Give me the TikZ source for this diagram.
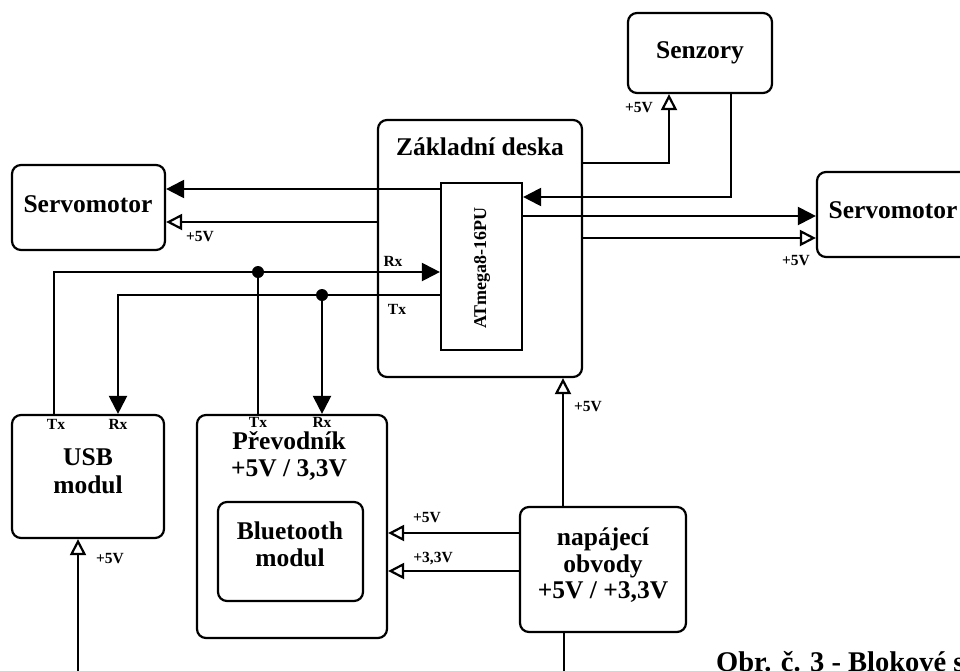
\documentclass[tikz,border=0pt]{standalone}
\usepackage{fontspec}
\setmainfont{Liberation Serif}
\usetikzlibrary{arrows.meta,calc}
\tikzset{
  blk/.style={draw,line width=2.2pt,rounded corners=9pt,inner sep=0pt,minimum width=#1},
  big/.style={font=\fontsize{25.5}{30}\selectfont\bfseries,inner sep=0pt,text height=0.7em,text depth=0.05em},
  sml/.style={font=\fontsize{15.5}{18}\selectfont\bfseries,inner sep=0pt,text height=0.7em,text depth=0.05em},
  wire/.style={line width=2.2pt},
  fa/.style={wire,-{Triangle[length=18pt,width=18pt]}},
  oa/.style={wire,-{Triangle[open,length=16pt,width=16pt,fill=white]}},
}
\begin{document}
\begin{tikzpicture}[x=1pt,y=-1pt]
\useasboundingbox (0,0) rectangle (960,670);
\begin{scope}
\clip (0,0) rectangle (960,670);
% boxes
\node[blk=144pt,minimum height=80pt] (senz) at (700,53) {};
\node[blk=204pt,minimum height=257pt] (zd) at (480,248.5) {};
\node[draw,line width=2.2pt,inner sep=0pt,minimum width=81pt,minimum height=167pt] (atm) at (481.5,266.5) {};
\node[blk=153pt,minimum height=85pt] (servoL) at (88.5,207.5) {};
\node[blk=152pt,minimum height=85pt] (servoR) at (893,214.5) {};
\node[blk=152pt,minimum height=123pt] (usb) at (88,476.5) {};
\node[blk=190pt,minimum height=223pt] (prev) at (292,526.5) {};
\node[blk=145pt,minimum height=99pt] (bt) at (290.5,551.5) {};
\node[blk=166pt,minimum height=125pt] (nap) at (603,569.5) {};
% texts
\node[big] (tsenz) at (700,55) {Senzory};
\node[big] (tzd) at (480,152) {Základní deska};
\node[font=\fontsize{18}{21}\selectfont\bfseries,inner sep=0pt,rotate=90] (tatm) at (482,268) {ATmega8-16PU};
\node[big] (tservoL) at (88,209) {Servomotor};
\node[big] (tservoR) at (893,215) {Servomotor};
\node[big] (tusb1) at (88,462) {USB};
\node[big] (tusb2) at (88,490) {modul};
\node[big] (tprev1) at (289,446) {Převodník};
\node[big] (tprev2) at (289,473) {+5V / 3,3V};
\node[big] (tbt1) at (290,536) {Bluetooth};
\node[big] (tbt2) at (290,563) {modul};
\node[big] (tnap1) at (603,542) {napájecí};
\node[big] (tnap2) at (603,569) {obvody};
\node[big] (tnap3) at (603,595) {+5V / +3,3V};
% small labels
\node[sml] (l1) at (200,238) {+5V};
\node[sml] (l2) at (796,262) {+5V};
\node[sml] (l3) at (639,109) {+5V};
\node[sml] (l4) at (588,408) {+5V};
\node[sml] (l5) at (110,560) {+5V};
\node[sml] (l6) at (427,519) {+5V};
\node[sml] (l7) at (433,559) {+3,3V};
\node[sml] (zrx) at (393,263) {Rx};
\node[sml] (ztx) at (397,311) {Tx};
\node[sml] (utx) at (56,426) {Tx};
\node[sml] (urx) at (118,426) {Rx};
\node[sml] (ptx) at (258,424) {Tx};
\node[sml] (prx) at (322,424) {Rx};
% caption
\node[font=\fontsize{28.5}{32}\selectfont\bfseries,inner sep=0pt,anchor=base west] (cap) at (716,671) {Obr. č. 3 - Blokové schéma};
% coordinates
\coordinate (dotrx) at (258,272);
\coordinate (dottx) at (322,295);
\coordinate (napbot) at (564,672);
\coordinate (usbpw) at (78,672);
% connectors
\draw[fa] (atm.west |- 0,189) -- (servoL.east |- 0,189);
\draw[oa] (zd.west |- 0,222) -- (servoL.east |- 0,222);
\draw[fa] (usb.north -| 54,0) |- (atm.west |- 0,272);
\draw[fa] (atm.west |- 0,295) -| (usb.north -| 118,0);
\draw[wire] (dotrx) -- (prev.north -| dotrx);
\draw[fa] (dottx) -- (prev.north -| dottx);
\fill (dotrx) circle (6);
\fill (dottx) circle (6);
\draw[oa] (zd.east |- 0,163) -| (senz.south -| 669,0);
\draw[fa] (senz.south -| 731,0) |- (atm.east |- 0,197);
\draw[fa] (atm.east |- 0,216) -- (servoR.west |- 0,216);
\draw[oa] (zd.east |- 0,238) -- (servoR.west |- 0,238);
\draw[oa] (nap.north -| 563,0) -- (zd.south -| 563,0);
\draw[oa] (nap.west |- 0,533) -- (prev.east |- 0,533);
\draw[oa] (nap.west |- 0,571) -- (prev.east |- 0,571);
\draw[wire] (nap.south -| napbot) -- (napbot);
\draw[oa] (usbpw) -- (usb.south -| usbpw);
\end{scope}
\end{tikzpicture}
\end{document}
